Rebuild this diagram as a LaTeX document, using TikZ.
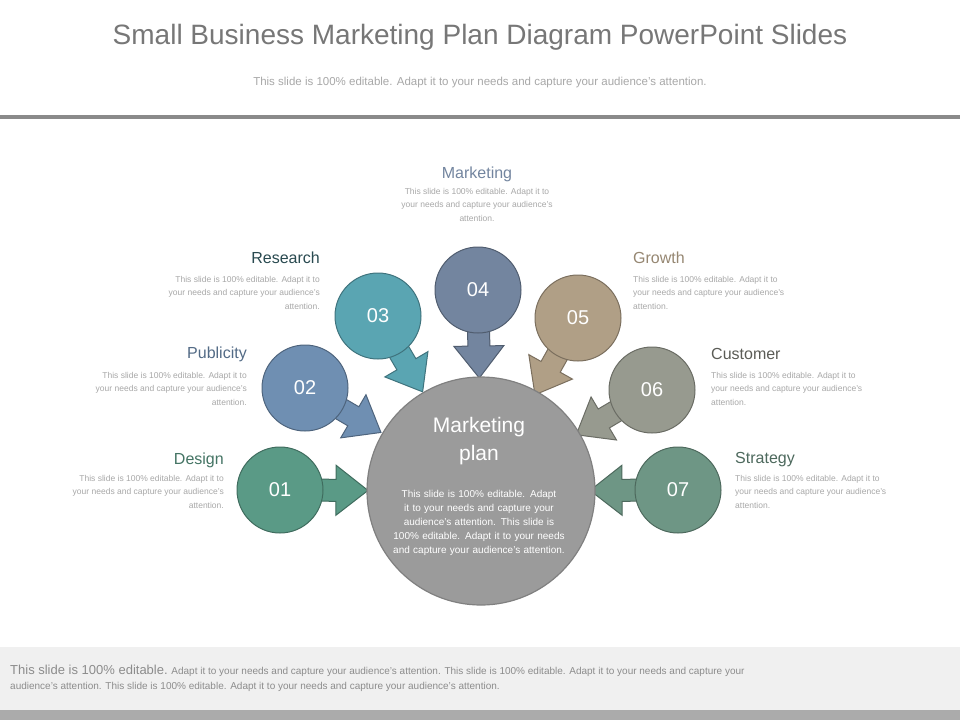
\documentclass[tikz,border=0pt]{standalone}
\usepackage{fontspec}
\setmainfont{Liberation Sans}
\usetikzlibrary{calc}
\definecolor{titlegray}{HTML}{777777}
\definecolor{lightgray}{HTML}{A8A8A8}
\definecolor{rulegray}{HTML}{8A8A8A}
\definecolor{hubgray}{HTML}{9B9B9B}
\definecolor{pinone}{HTML}{5A9A86}
\definecolor{pintwo}{HTML}{6F8FB2}
\definecolor{pinthree}{HTML}{5AA5B2}
\definecolor{pinfour}{HTML}{73859F}
\definecolor{pinfive}{HTML}{B09F86}
\definecolor{pinsix}{HTML}{979A8F}
\definecolor{pinseven}{HTML}{6E9685}

\tikzset{
  heading/.style={font=\fontsize{16}{18}\selectfont,inner sep=0pt},
  blurb/.style={font=\fontsize{8.5}{13.5}\selectfont,text=lightgray,inner sep=0pt},
  pinnum/.style={font=\fontsize{20}{22}\selectfont,text=white}
}

\begin{document}
\begin{tikzpicture}[x=1pt,y=-1pt]
  \useasboundingbox (0,0) rectangle (960,720);
  \fill[white] (0,0) rectangle (960,720);
  \node[font=\fontsize{28}{30}\selectfont,text=titlegray] (title) at (480,37)
    {Small Business Marketing Plan Diagram PowerPoint Slides};
  \node[font=\fontsize{11.5}{13}\selectfont,text=lightgray] (subtitle) at (480,83)
    {This slide is 100\% editable. Adapt it to your needs and capture your audience’s attention.};
  \fill[rulegray] (0,115) rectangle (960,119);

  % bottom band
  \fill[black!6] (0,647) rectangle (960,710);
  \fill[black!33] (0,710) rectangle (960,720);
  \node[anchor=north west,text=black!45,inner sep=0pt,align=left,
        font=\fontsize{10}{15}\selectfont] (footer) at (10,665)
    {{\fontsize{13}{15}\selectfont This slide is 100\% editable.} Adapt it to your needs and capture your audience’s attention. This slide is 100\% editable. Adapt it to your needs and capture your\\
     audience’s attention. This slide is 100\% editable. Adapt it to your needs and capture your audience’s attention.};

  % hub
  \coordinate (hub) at (481,491);

  % pins
  \foreach \n/\px/\py/\col in {01/280/490/pinone,02/305/388/pintwo,03/378/316/pinthree,
      04/478/290/pinfour,05/578/318/pinfive,06/652/390/pinsix,07/678/490/pinseven}{
    \coordinate (p\n) at (\px,\py);
    \coordinate (hb\n) at ($(p\n)!56pt!(hub)$);
    \coordinate (tip\n) at ($(p\n)!88pt!(hub)$);
    \filldraw[fill=\col,draw=\col!70!black,line width=1pt]
      ($(p\n)!11pt!90:(hub)$) -- ($(hb\n)!11pt!90:(hub)$) -- ($(hb\n)!25pt!90:(hub)$)
      -- (tip\n) -- ($(hb\n)!25pt!-90:(hub)$) -- ($(hb\n)!11pt!-90:(hub)$)
      -- ($(p\n)!11pt!-90:(hub)$) -- cycle;
    \filldraw[fill=\col,draw=\col!70!black,line width=1pt] (p\n) circle[radius=43];
    \node[pinnum] (num\n) at (p\n) {\n};
  }

  \filldraw[fill=hubgray,draw=black!50,line width=1.2pt] (hub) circle[radius=114];
  \node[text=white,align=center,font=\fontsize{21}{28}\selectfont] (hubtitle) at (479,441)
    {Marketing\\plan};
  \node[text=white,align=center,text width=175,inner sep=0pt,
        font=\fontsize{10}{14}\selectfont] (hubtext) at (479,523)
    {This slide is 100\% editable. Adapt it to your needs and capture your audience’s attention. This slide is 100\% editable. Adapt it to your needs and capture your audience’s attention.};

  % labels
  \node[heading,anchor=east,text=pinone!75!black] (design) at (224,460) {Design};
  \node[blurb,anchor=north east,align=right] (designtext) at (224,475)
    {This slide is 100\% editable. Adapt it to\\your needs and capture your audience’s\\attention.};
  \node[heading,anchor=east,text=pintwo!75!black] (publicity) at (247,354) {Publicity};
  \node[blurb,anchor=north east,align=right] (publicitytext) at (247,372)
    {This slide is 100\% editable. Adapt it to\\your needs and capture your audience’s\\attention.};
  \node[heading,anchor=east,text=pinthree!45!black] (research) at (320,258) {Research};
  \node[blurb,anchor=north east,align=right] (researchtext) at (320,276)
    {This slide is 100\% editable. Adapt it to\\your needs and capture your audience’s\\attention.};
  \node[heading,text=pinfour] (marketing) at (477,174) {Marketing};
  \node[blurb,anchor=north,align=center] (marketingtext) at (477,188)
    {This slide is 100\% editable. Adapt it to\\your needs and capture your audience’s\\attention.};
  \node[heading,anchor=west,text=pinfive!85!black] (growth) at (633,258) {Growth};
  \node[blurb,anchor=north west,align=left] (growthtext) at (633,276)
    {This slide is 100\% editable. Adapt it to\\your needs and capture your audience’s\\attention.};
  \node[heading,anchor=west,text=pinsix!60!black] (customer) at (711,354) {Customer};
  \node[blurb,anchor=north west,align=left] (customertext) at (711,372)
    {This slide is 100\% editable. Adapt it to\\your needs and capture your audience’s\\attention.};
  \node[heading,anchor=west,text=pinseven!70!black] (strategy) at (735,460) {Strategy};
  \node[blurb,anchor=north west,align=left] (strategytext) at (735,475)
    {This slide is 100\% editable. Adapt it to\\your needs and capture your audience’s\\attention.};
\end{tikzpicture}
\end{document}
